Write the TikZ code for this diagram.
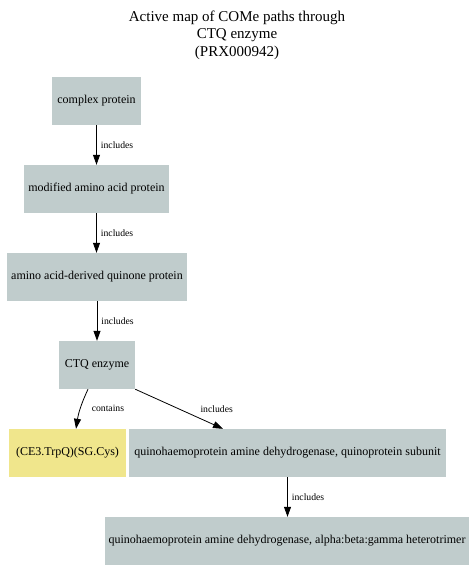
\documentclass[tikz,border=0pt]{standalone}
\usepackage{fontspec}
\setmainfont{Liberation Serif}
\usetikzlibrary{arrows.meta}
\definecolor{boxgrey}{RGB}{192,204,204}
\definecolor{boxkhaki}{RGB}{240,230,140}
\tikzset{
  term/.style={rectangle, fill=boxgrey, draw=none, minimum height=48bp,
    inner sep=0pt, font=\fontsize{12bp}{14bp}\selectfont},
  residue/.style={term, fill=boxkhaki},
  arr/.style={draw=black, line width=0.8bp, -{Triangle[length=10bp,width=7bp]}},
  elabel/.style={font=\fontsize{9.7bp}{11bp}\selectfont, inner sep=0pt, anchor=west},
  titletext/.style={align=center, font=\fontsize{15bp}{17.5bp}\selectfont}
}
\begin{document}
\begin{tikzpicture}[x=1bp, y=-1bp]
  \useasboundingbox (0,0) rectangle (473,582);

  \node[titletext] (title) at (237,35) {Active map of COMe paths through\\CTQ enzyme\\(PRX000942)};

  % hierarchy of terms
  \node[term, minimum width=89bp]  (complex)  at (96.5,101) {complex protein};
  \node[term, minimum width=145bp] (modified) at (96.5,189) {modified amino acid protein};
  \node[term, minimum width=180bp] (quinone)  at (97,277)   {amino acid-derived quinone protein};
  \node[term, minimum width=76bp]  (ctq)      at (97,365)   {CTQ enzyme};
  \node[residue, minimum width=117bp] (res)   at (67.5,453) {(CE3.TrpQ)(SG.Cys)};
  \node[term, minimum width=317bp] (subunit)  at (287.5,453) {quinohaemoprotein amine dehydrogenase, quinoprotein subunit};
  \node[term, minimum width=364bp] (trimer)   at (287,541)  {quinohaemoprotein amine dehydrogenase, alpha:beta:gamma heterotrimer};

  % relations
  \draw[arr] (complex.south) -- (complex.south |- modified.north)
    node[elabel, midway, xshift=4bp] {includes};
  \draw[arr] (modified.south) -- (modified.south |- quinone.north)
    node[elabel, midway, xshift=4bp] {includes};
  \draw[arr] (quinone.south) -- (quinone.south |- ctq.north)
    node[elabel, midway, xshift=4bp] {includes};
  \draw[arr] ([xshift=-9bp]ctq.south) to[bend right=8]
    node[elabel, midway, xshift=11bp] {contains} ([xshift=8.5bp]res.north);
  \draw[arr] (ctq.south east) -- ([xshift=-64.5bp]subunit.north)
    node[elabel, midway, xshift=21bp] {includes};
  \draw[arr] (subunit.south) -- (subunit.south |- trimer.north)
    node[elabel, midway, xshift=4bp] {includes};
\end{tikzpicture}
\end{document}
